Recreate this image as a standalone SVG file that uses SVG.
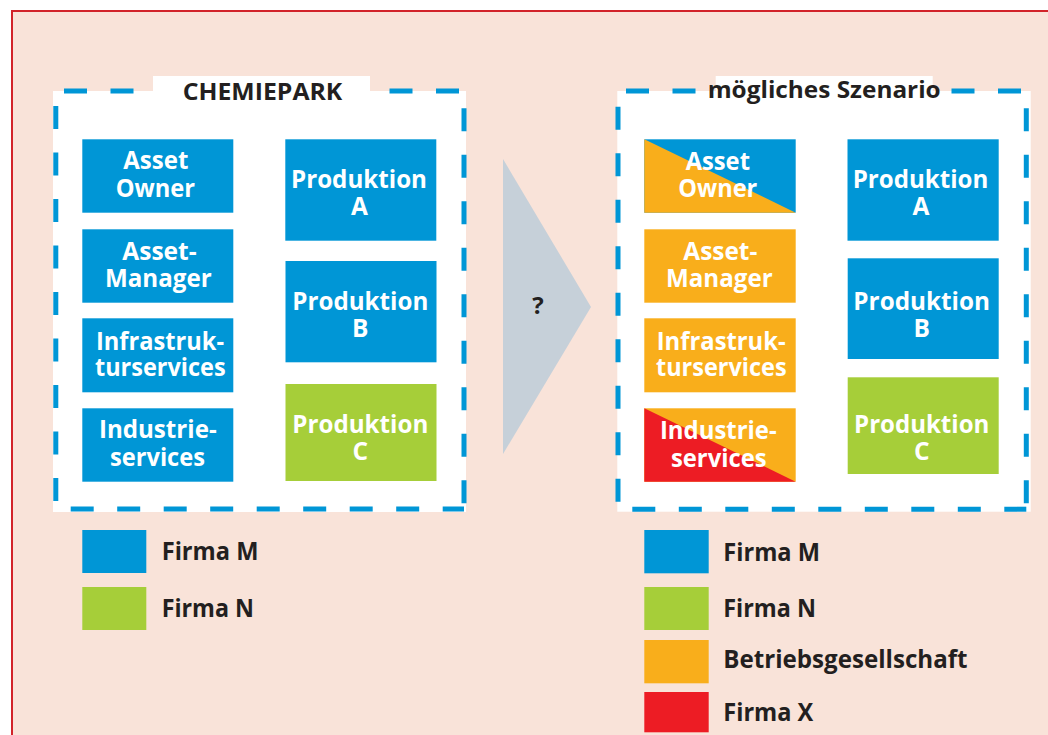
<svg xmlns="http://www.w3.org/2000/svg" width="1048" height="735" viewBox="0 0 1048 735">
  <style>
    .frame { fill: #f9e3d9; stroke: #d2232a; stroke-width: 2; }
    .panel { fill: #ffffff; }
    .dash { stroke: #0096d6; stroke-width: 5; stroke-dasharray: 23 23.5; fill: none; }
    .blue { fill: #0096d6; }
    .green { fill: #a6ce39; }
    .orange { fill: #f9ae1b; }
    .red { fill: #ed1c24; }
    .box-text { font-family: "Open Sans", "Noto Sans", "Liberation Sans", sans-serif; font-weight: 700; font-size: 24.5px; fill: #ffffff; text-anchor: middle; }
    .title { font-family: "Open Sans", "Noto Sans", "Liberation Sans", sans-serif; font-weight: 700; font-size: 24px; fill: #231f20; text-anchor: middle; }
    .legend-text { font-family: "Open Sans", "Noto Sans", "Liberation Sans", sans-serif; font-weight: 700; font-size: 25px; fill: #231f20; }
    .arrow { fill: #c6d0d9; }
  </style>

  <!-- background frame -->
  <rect x="0" y="0" width="1048" height="735" fill="#ffffff"/>
  <rect class="frame" x="12" y="11" width="1060" height="760"/>

  <!-- left panel: CHEMIEPARK -->
  <g id="panel-chemiepark">
    <rect class="panel" x="53" y="91" width="413" height="421"/>
    <line class="dash" x1="55.8" y1="91" x2="464" y2="91" stroke-dashoffset="38.3"/>
    <line class="dash" x1="464" y1="91" x2="464" y2="509" stroke-dashoffset="29.2"/>
    <line class="dash" x1="55.8" y1="91" x2="55.8" y2="509" stroke-dashoffset="31.5"/>
    <line class="dash" x1="55.8" y1="509" x2="464" y2="509" stroke-dashoffset="31.6"/>
    <rect class="panel" x="153" y="76" width="217" height="20"/>
    <text class="title" x="262.5" y="100" textLength="159.7" lengthAdjust="spacingAndGlyphs">CHEMIEPARK</text>
  </g>

  <g id="l-asset-owner">
    <rect class="blue" x="82.3" y="139.3" width="151" height="73.4"/>
    <text class="box-text" x="155.8" y="169.3" textLength="65" lengthAdjust="spacingAndGlyphs">Asset</text>
    <text class="box-text" x="155.3" y="196.7" textLength="79.3" lengthAdjust="spacingAndGlyphs">Owner</text>
  </g>
  <g id="l-asset-manager">
    <rect class="blue" x="82.3" y="229.3" width="151" height="73.4"/>
    <text class="box-text" x="159.5" y="260" textLength="74.3" lengthAdjust="spacingAndGlyphs">Asset-</text>
    <text class="box-text" x="158.3" y="287" textLength="106.7" lengthAdjust="spacingAndGlyphs">Manager</text>
  </g>
  <g id="l-infrastruktur">
    <rect class="blue" x="82.3" y="318.3" width="151" height="74"/>
    <text class="box-text" x="160" y="350" textLength="128" lengthAdjust="spacingAndGlyphs">Infrastruk-</text>
    <text class="box-text" x="160.3" y="376" textLength="130.7" lengthAdjust="spacingAndGlyphs">turservices</text>
  </g>
  <g id="l-industrie">
    <rect class="blue" x="82.3" y="408.3" width="151" height="73.4"/>
    <text class="box-text" x="157.8" y="438.3" textLength="117.7" lengthAdjust="spacingAndGlyphs">Industrie-</text>
    <text class="box-text" x="157.5" y="466" textLength="95" lengthAdjust="spacingAndGlyphs">services</text>
  </g>
  <g id="l-produktion-a">
    <rect class="blue" x="285.3" y="139.3" width="151" height="101.4"/>
    <text class="box-text" x="359" y="188.3" textLength="136" lengthAdjust="spacingAndGlyphs">Produktion</text>
    <text class="box-text" x="359.5" y="215">A</text>
  </g>
  <g id="l-produktion-b">
    <rect class="blue" x="285.5" y="261" width="151" height="101.3"/>
    <text class="box-text" x="360.3" y="310" textLength="136" lengthAdjust="spacingAndGlyphs">Produktion</text>
    <text class="box-text" x="360.3" y="336.7">B</text>
  </g>
  <g id="l-produktion-c">
    <rect class="green" x="285.5" y="384" width="151" height="97"/>
    <text class="box-text" x="360.3" y="433.3" textLength="136" lengthAdjust="spacingAndGlyphs">Produktion</text>
    <text class="box-text" x="360.3" y="460">C</text>
  </g>

  <!-- transition arrow -->
  <g id="transition">
    <polygon class="arrow" points="503,159 591,307 503,454"/>
    <text class="title" x="538" y="313.5" font-size="20">?</text>
  </g>

  <!-- right panel: possible scenario -->
  <g id="panel-szenario">
    <rect class="panel" x="617.3" y="91" width="413.4" height="420.7"/>
    <line class="dash" x1="618" y1="91" x2="1026.3" y2="91" stroke-dashoffset="38.5"/>
    <line class="dash" x1="1026.3" y1="91" x2="1026.3" y2="509.2" stroke-dashoffset="29.2"/>
    <line class="dash" x1="618" y1="91" x2="618" y2="509.2" stroke-dashoffset="30.8"/>
    <line class="dash" x1="618" y1="509.2" x2="1026.3" y2="509.2" stroke-dashoffset="32.2"/>
    <rect class="panel" x="715.7" y="76" width="217" height="20"/>
    <text class="title" x="824.2" y="97.7" textLength="233" lengthAdjust="spacingAndGlyphs">mögliches Szenario</text>
  </g>

  <g id="r-asset-owner">
    <rect class="blue" x="644.3" y="139.3" width="151.4" height="73.4"/>
    <polygon class="orange" points="644.3,139.3 795.7,212.7 644.3,212.7"/>
    <text class="box-text" x="717.8" y="170" textLength="64.3" lengthAdjust="spacingAndGlyphs">Asset</text>
    <text class="box-text" x="717.8" y="196.7" textLength="79" lengthAdjust="spacingAndGlyphs">Owner</text>
  </g>
  <g id="r-asset-manager">
    <rect class="orange" x="644.3" y="229.3" width="151.4" height="73.4"/>
    <text class="box-text" x="720.3" y="260" textLength="74" lengthAdjust="spacingAndGlyphs">Asset-</text>
    <text class="box-text" x="719.3" y="287" textLength="106.7" lengthAdjust="spacingAndGlyphs">Manager</text>
  </g>
  <g id="r-infrastruktur">
    <rect class="orange" x="644.3" y="318.3" width="151.4" height="74"/>
    <text class="box-text" x="721.2" y="350" textLength="129" lengthAdjust="spacingAndGlyphs">Infrastruk-</text>
    <text class="box-text" x="721.3" y="376" textLength="130.7" lengthAdjust="spacingAndGlyphs">turservices</text>
  </g>
  <g id="r-industrie">
    <rect class="orange" x="644.3" y="408.3" width="151.4" height="73.4"/>
    <polygon class="red" points="644.3,408.3 795.7,481.7 644.3,481.7"/>
    <text class="box-text" x="718.3" y="439" textLength="116.7" lengthAdjust="spacingAndGlyphs">Industrie-</text>
    <text class="box-text" x="718.8" y="466.5" textLength="95.7" lengthAdjust="spacingAndGlyphs">services</text>
  </g>
  <g id="r-produktion-a">
    <rect class="blue" x="847.5" y="139.3" width="151.2" height="101.4"/>
    <text class="box-text" x="920.5" y="188.3" textLength="135.6" lengthAdjust="spacingAndGlyphs">Produktion</text>
    <text class="box-text" x="921" y="215">A</text>
  </g>
  <g id="r-produktion-b">
    <rect class="blue" x="847.7" y="258.3" width="151" height="100.7"/>
    <text class="box-text" x="921.7" y="310" textLength="136.7" lengthAdjust="spacingAndGlyphs">Produktion</text>
    <text class="box-text" x="921.7" y="336.7">B</text>
  </g>
  <g id="r-produktion-c">
    <rect class="green" x="847.7" y="377.3" width="151" height="96.7"/>
    <text class="box-text" x="921.7" y="433.3" textLength="135.3" lengthAdjust="spacingAndGlyphs">Produktion</text>
    <text class="box-text" x="921.7" y="460">C</text>
  </g>

  <!-- legend, left panel -->
  <g id="legend-left">
    <rect class="blue" x="82.3" y="530" width="64" height="43"/>
    <text class="legend-text" x="161.7" y="559.7" textLength="96.7" lengthAdjust="spacingAndGlyphs">Firma M</text>
    <rect class="green" x="82.3" y="587" width="64" height="43"/>
    <text class="legend-text" x="161.7" y="616.8" textLength="92.3" lengthAdjust="spacingAndGlyphs">Firma N</text>
  </g>

  <!-- legend, right panel -->
  <g id="legend-right">
    <rect class="blue" x="644.3" y="530" width="64.4" height="43.3"/>
    <text class="legend-text" x="723.3" y="560.5" textLength="96.7" lengthAdjust="spacingAndGlyphs">Firma M</text>
    <rect class="green" x="644.3" y="587" width="64.4" height="43"/>
    <text class="legend-text" x="723.3" y="617.3" textLength="92.7" lengthAdjust="spacingAndGlyphs">Firma N</text>
    <rect class="orange" x="644.3" y="640" width="64.4" height="43.3"/>
    <text class="legend-text" x="723.3" y="667.7" textLength="244.3" lengthAdjust="spacingAndGlyphs">Betriebsgesellschaft</text>
    <rect class="red" x="644.3" y="692" width="64.4" height="40.3"/>
    <text class="legend-text" x="723.3" y="720.7" textLength="90" lengthAdjust="spacingAndGlyphs">Firma X</text>
  </g>
</svg>
